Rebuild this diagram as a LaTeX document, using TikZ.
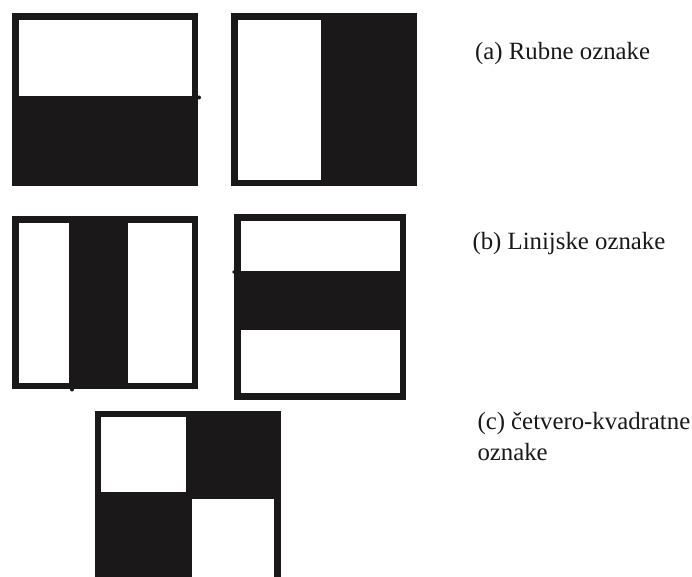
\documentclass[tikz,border=0pt]{standalone}
\usepackage{fontspec}
\setmainfont{Liberation Serif}
\definecolor{ink}{HTML}{1A1818}
\begin{document}
\begin{tikzpicture}[x=1pt,y=-1pt,
  blk/.style={fill=ink,draw=none},
  wht/.style={fill=white,draw=none},
  lbl/.style={anchor=base west,inner sep=0pt,font=\fontsize{24.8}{31}\selectfont,text=ink,align=left}]
\useasboundingbox (0,0) rectangle (692,577);
% box 1
\fill[blk] (12.3,13.3) rectangle (198,186);
\fill[wht] (19,20) rectangle (192,95.7);
\fill[ink] (199,97.5) circle (2);
% box 2
\fill[blk] (231,13.3) rectangle (417.3,185.7);
\fill[wht] (237.7,20) rectangle (321.3,180);
% box 3
\fill[blk] (12.3,216) rectangle (198.3,389.3);
\fill[wht] (19,223.3) rectangle (68.7,383.3);
\fill[wht] (128.3,223.3) rectangle (192,383.3);
\fill[ink] (72,389.5) circle (2);
% box 4
\fill[blk] (234,214) rectangle (405.7,400);
\fill[wht] (240.7,220.7) rectangle (400,270.7);
\fill[wht] (240.7,330) rectangle (400,393.3);
\fill[ink] (234,272) circle (1.8);
% box 5
\fill[blk] (95,410.7) rectangle (281.3,580);
\fill[wht] (101.3,417.3) rectangle (186.3,492.3);
\fill[wht] (192.3,499) rectangle (274.3,580);
% labels
\node[lbl] (la) at (475,59.3) {(a) Rubne oznake};
\node[lbl] (lb) at (472.3,249.3) {(b) Linijske oznake};
\node[lbl] (lc) at (477.3,460.6) {(c) četvero-kvadratne\\oznake};
\end{tikzpicture}
\end{document}
